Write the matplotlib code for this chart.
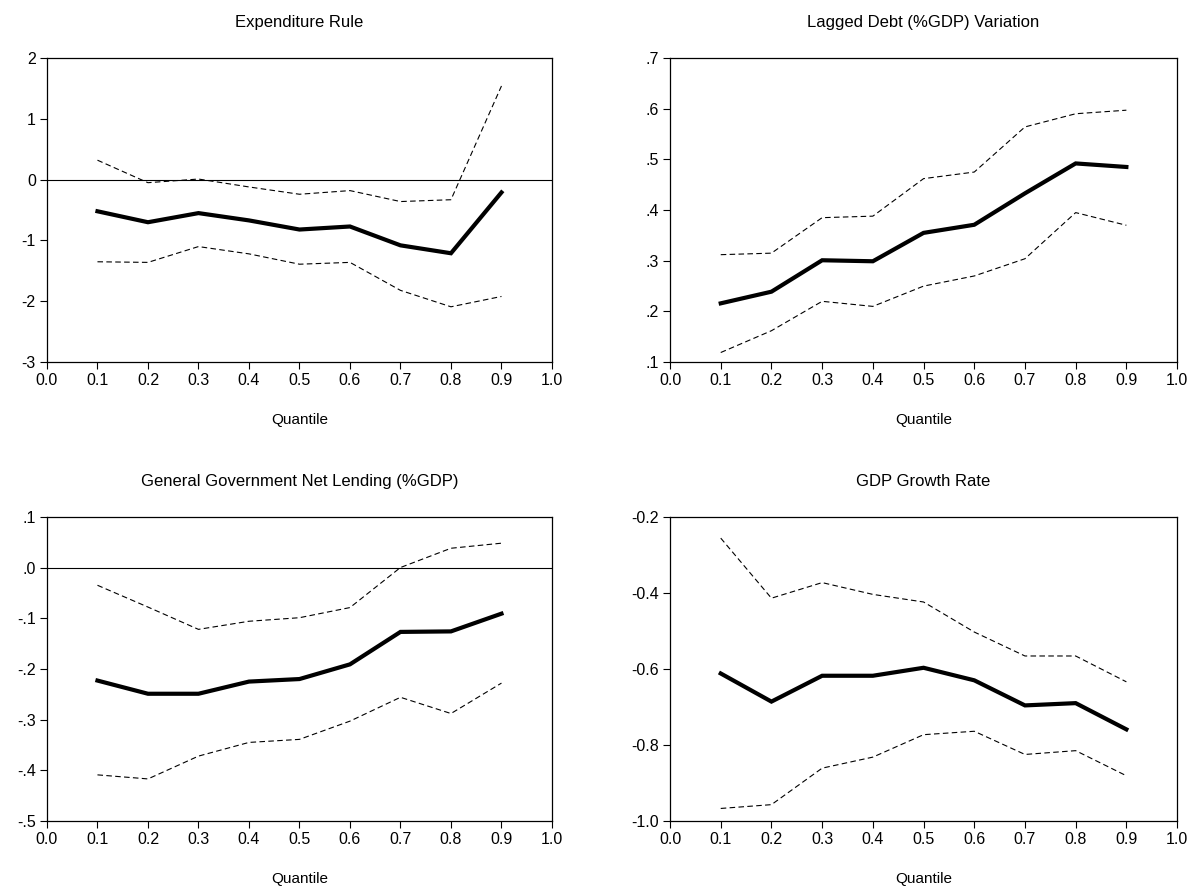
import matplotlib
matplotlib.use("Agg")

import numpy as np
import matplotlib.pyplot as plt
from matplotlib.ticker import FuncFormatter

plt.rcParams['font.family'] = ['Liberation Sans', 'DejaVu Sans']
plt.rcParams['font.size'] = 11.5

quantiles = [0.1, 0.2, 0.3, 0.4, 0.5, 0.6, 0.7, 0.8, 0.9]

titles = ["Expenditure Rule", "Lagged Debt (%GDP) Variation",
          "General Government Net Lending (%GDP)", "GDP Growth Rate"]

# expenditure rule
exp_mean = [-0.52, -0.70, -0.55, -0.67, -0.82, -0.77, -1.08, -1.21, -0.21]
exp_upper = [0.32, -0.05, 0.01, -0.12, -0.24, -0.18, -0.36, -0.33, 1.54]
exp_lower = [-1.35, -1.36, -1.10, -1.22, -1.39, -1.36, -1.82, -2.09, -1.92]

# lagged debt variation
debt_mean = [0.216, 0.239, 0.301, 0.299, 0.355, 0.371, 0.433, 0.492, 0.485]
debt_upper = [0.312, 0.315, 0.385, 0.388, 0.462, 0.475, 0.564, 0.590, 0.597]
debt_lower = [0.119, 0.162, 0.220, 0.210, 0.250, 0.270, 0.304, 0.395, 0.370]

# net lending
lend_mean = [-0.223, -0.249, -0.249, -0.225, -0.220, -0.191, -0.127, -0.126, -0.091]
lend_upper = [-0.035, -0.078, -0.122, -0.106, -0.099, -0.079, 0.0, 0.038, 0.048]
lend_lower = [-0.409, -0.417, -0.372, -0.345, -0.339, -0.303, -0.256, -0.288, -0.228]

# gdp growth
gdp_mean = [-0.612, -0.686, -0.618, -0.618, -0.597, -0.630, -0.696, -0.690, -0.759]
gdp_upper = [-0.256, -0.414, -0.373, -0.404, -0.424, -0.503, -0.566, -0.566, -0.634]
gdp_lower = [-0.967, -0.957, -0.861, -0.832, -0.773, -0.764, -0.825, -0.815, -0.881]

x_ticks = [0.0, 0.1, 0.2, 0.3, 0.4, 0.5, 0.6, 0.7, 0.8, 0.9, 1.0]
exp_ticks = [-3, -2, -1, 0, 1, 2]
debt_ticks = [0.1, 0.2, 0.3, 0.4, 0.5, 0.6, 0.7]
lend_ticks = [-0.5, -0.4, -0.3, -0.2, -0.1, 0.0, 0.1]
gdp_ticks = [-1.0, -0.8, -0.6, -0.4, -0.2]


def short_dec(v, pos):
    # EViews style: ".7", "-.1", ".0"
    s = f"{v:.1f}"
    return s.replace("0.", ".", 1)


fig = plt.figure(figsize=(11.95, 8.92), dpi=100)

# left, bottom, width, height in figure fractions
boxes = [
    [0.0393, 0.594, 0.4226, 0.341],
    [0.5607, 0.594, 0.4243, 0.341],
    [0.0393, 0.0796, 0.4226, 0.341],
    [0.5607, 0.0796, 0.4243, 0.341],
]

panels = [
    (exp_mean, exp_upper, exp_lower, exp_ticks, lambda v, p: f"{v:.0f}", True),
    (debt_mean, debt_upper, debt_lower, debt_ticks, short_dec, False),
    (lend_mean, lend_upper, lend_lower, lend_ticks, short_dec, True),
    (gdp_mean, gdp_upper, gdp_lower, gdp_ticks, lambda v, p: f"{v:.1f}", False),
]

for box, title, (mean, upper, lower, yticks, fmt, zero) in zip(boxes, titles, panels):
    ax = fig.add_axes(box)
    if zero:
        ax.axhline(0, color='black', linewidth=0.8, zorder=1)
    ax.plot(quantiles, upper, color='black', linewidth=0.8, dashes=(5, 3))
    ax.plot(quantiles, lower, color='black', linewidth=0.8, dashes=(5, 3))
    ax.plot(quantiles, mean, color='black', linewidth=3.0, solid_joinstyle='miter')

    ax.set_xlim(0.0, 1.0)
    ax.set_ylim(yticks[0], yticks[-1])
    ax.set_xticks(x_ticks)
    ax.set_xticklabels([f"{t:.1f}" for t in x_ticks])
    ax.set_yticks(yticks)
    ax.yaxis.set_major_formatter(FuncFormatter(fmt))
    ax.tick_params(direction='out', length=5, width=0.8, top=False, right=False, pad=3)
    for sp in ax.spines.values():
        sp.set_linewidth(0.9)

    ax.set_title(title, fontsize=12, pad=22)
    ax.set_xlabel("Quantile", fontsize=11, labelpad=18)

plt.savefig("out.png", dpi=100)
plt.close()
